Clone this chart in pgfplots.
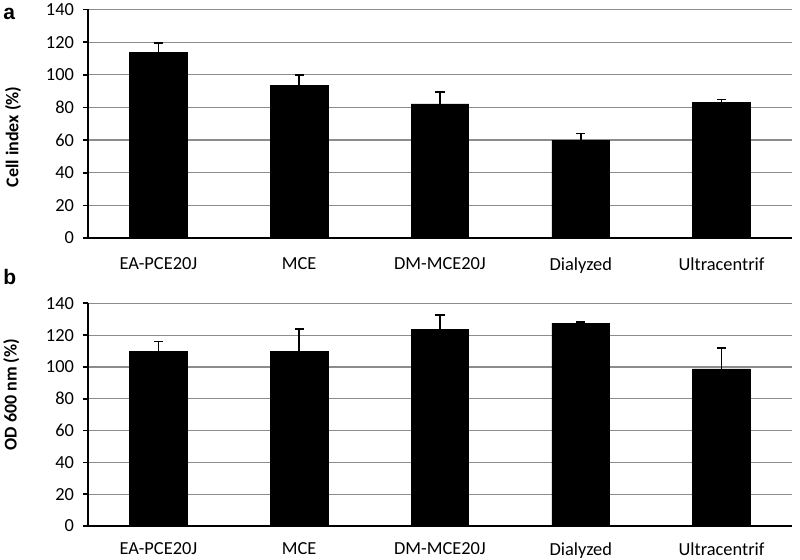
\documentclass[border=0pt]{standalone}
\usepackage{pgfplots}
\pgfplotsset{compat=1.18}
\usepackage{fontspec}
\setmainfont{Carlito}
\newfontfamily\arialfont{Liberation Sans}
\definecolor{gridgray}{RGB}{140,140,140}
\pgfplotsset{
  panel/.style={
    scale only axis,
    anchor=south west,
    width=352pt,
    xmin=-0.5, xmax=4.5,
    ymin=0, ymax=140,
    ytick={0,20,...,140},
    xtick={0,1,2,3,4},
    xticklabels={EA-PCE20J,MCE,DM-MCE20J,Dialyzed,Ultracentrif},
    x tick style={draw=none},
    extra x ticks={-0.5,0.5,1.5,2.5,3.5,4.5},
    extra x tick labels={},
    extra x tick style={major tick length=3.5pt, tick style={draw=black, line width=0.8pt}},
    axis x line=bottom, axis y line=left,
    axis line style={-, line width=0.8pt, black},
    tick align=outside,
    y tick style={line width=0.8pt, black},
    major tick length=2.5pt,
    ymajorgrids,
    major grid style={gridgray, line width=0.6pt},
    /pgf/number format/assume math mode=true,
    tick label style={font=\fontsize{9.2}{11}\selectfont},
    yticklabel style={xshift=-1pt},
    ybar, bar width=0.41,
    label style={font=\fontsize{9}{10.8}\selectfont\bfseries},
  },
  mybar/.style={fill=black, draw=black,
    error bars/.cd, y dir=plus, y explicit,
    error bar style={line width=0.8pt, black},
    error mark options={rotate=90, mark size=2.3pt, line width=0.8pt, black}},
}
\begin{document}
\begin{tikzpicture}[x=1pt,y=1pt]
\path[use as bounding box] (0,0) rectangle (400,280);
\begin{axis}[panel, at={(44pt,161pt)}, height=114.25pt,
  xticklabel style={yshift=-4pt},
  ylabel={Cell index (\%)},
  ylabel style={at={(axis description cs:-0.1065,0.442)}, anchor=center, rotate=0}]
\addplot[mybar] coordinates {
  (0,113.5) +- (0,6.0)
  (1,93.3) +- (0,6.4)
  (2,82.1) +- (0,7.2)
  (3,60.0) +- (0,3.9)
  (4,83.1) +- (0,1.8)
};
\end{axis}
\begin{axis}[panel, at={(44pt,17pt)}, height=111.35pt,
  xticklabel style={yshift=-2.2pt},
  ylabel={OD 600 nm (\%)},
  ylabel style={at={(axis description cs:-0.109,0.59)}, anchor=center, rotate=0}]
\addplot[mybar] coordinates {
  (0,109.6) +- (0,6.3)
  (1,109.6) +- (0,14.1)
  (2,123.7) +- (0,9.0)
  (3,127.5) +- (0,0.6)
  (4,98.7) +- (0,13.2)
};
\end{axis}
\node[anchor=base west, inner sep=0pt, font=\arialfont\bfseries\fontsize{10.5}{12}\selectfont] at (1.5,270) {a};
\node[anchor=base west, inner sep=0pt, font=\arialfont\bfseries\fontsize{10.5}{12}\selectfont] at (1.5,137.5) {b};
\end{tikzpicture}
\end{document}
